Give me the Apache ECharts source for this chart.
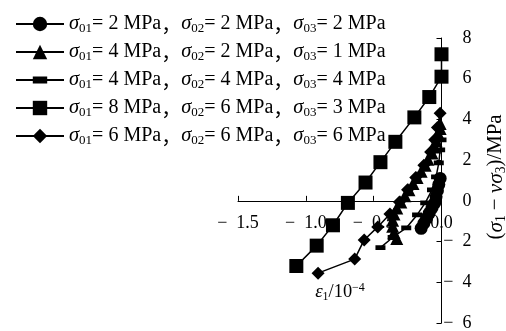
<!DOCTYPE html>
<html>
<head>
<meta charset="utf-8">
<script src="https://cdn.jsdelivr.net/npm/echarts@6/dist/echarts.min.js"></script>
<style>
  html, body { margin: 0; background: #fff; }
  #chart { width: 506px; height: 331px; }
</style>
</head>
<body>
<div id="chart"></div>
<script>
// 围压组合 (MPa)
const sigma01 = [2, 4, 4, 8, 6]
const sigma02 = [2, 2, 4, 6, 6]
const sigma03 = [2, 1, 4, 3, 6]

// ε1 (×10^-4)
const eps1 = [
  [-0.15, -0.13, -0.11, -0.09, -0.07, -0.05, -0.04, -0.03, -0.02, -0.01],
  [-0.33, -0.35, -0.36, -0.36, -0.35, -0.33, -0.3, -0.27, -0.24, -0.21, -0.18, -0.15, -0.12, -0.1, -0.07, -0.05, -0.04, -0.02, -0.01, -0.01],
  [-0.45, -0.36, -0.26, -0.18, -0.12, -0.07, -0.04, -0.02, -0.01, 0],
  [-1.07, -0.92, -0.8, -0.69, -0.56, -0.45, -0.34, -0.2, -0.09, 0, 0],
  [-0.91, -0.64, -0.57, -0.47, -0.38, -0.31, -0.25, -0.19, -0.13, -0.08, -0.05, -0.03, -0.01]
]
// σ1 − νσ3 (MPa)
const stress = [
  [-1.35, -1.1, -0.85, -0.6, -0.35, -0.1, 0.2, 0.5, 0.8, 1.1],
  [-1.85, -1.55, -1.25, -0.95, -0.65, -0.35, -0.05, 0.25, 0.55, 0.85, 1.15, 1.45, 1.75, 2.05, 2.35, 2.65, 2.95, 3.25, 3.55, 3.8],
  [-2.3, -1.8, -1.33, -0.69, -0.1, 0.54, 1.18, 1.87, 2.5, 3.0],
  [-3.2, -2.2, -1.2, -0.1, 0.9, 1.9, 2.9, 4.1, 5.1, 6.1, 7.2],
  [-3.55, -2.86, -1.92, -1.28, -0.65, -0.05, 0.55, 1.15, 1.75, 2.4, 3.0, 3.6, 4.3]
]

const dashSymbol = 'path://M0,0L0.01,0L0,0.01Z M9.99,10L10,10L10,9.99Z M0,2.6H10V7.4H0Z'
const symbols = ['circle', 'triangle', dashSymbol, 'rect', 'diamond']
const symbolSizes = [13, 13, 10, 14, 13]

const serif = '"Liberation Serif", "Times New Roman", serif'
const makeRich = (k) => ({
  i: { fontFamily: serif, fontStyle: 'italic', fontSize: 20.5 * k, color: '#000' },
  s: { fontFamily: serif, fontSize: 13 * k, color: '#000', padding: [10 * k, 0, 0, 0] },
  p: { fontFamily: serif, fontSize: 13 * k, color: '#000', padding: [0, 0, 10 * k, 0] },
  n: { fontFamily: serif, fontSize: 20 * k, color: '#000' },
  c: { fontFamily: '"Noto Sans CJK SC", sans-serif', fontSize: 20 * k, color: '#000' }
})
const rich = makeRich(1)

const names = sigma01.map((v, i) =>
  'σ01= ' + v + ' MPa，σ02= ' + sigma02[i] + ' MPa，σ03= ' + sigma03[i] + ' MPa')

const legendLabel = (i) =>
  '{i|σ}{s|01}{n|= ' + sigma01[i] + ' MPa}{c|，}' +
  '{i|σ}{s|02}{n|= ' + sigma02[i] + ' MPa}{c|，}' +
  '{i|σ}{s|03}{n|= ' + sigma03[i] + ' MPa}'

const fmtNum = (v, digits) => {
  const s = Math.abs(v).toFixed(digits)
  return v < 0 ? '\u2212\u2002' + s : s
}

const chart = echarts.init(document.getElementById('chart'))

// 网格高度 285px, y 范围 -6~8, 零线距底边 6/14
const gridH = 285
const zeroOffset = -gridH * 6 / 14

chart.setOption({
  backgroundColor: '#fff',
  animation: false,
  grid: { left: 238, right: 64.5, top: 38, bottom: 8, outerBoundsMode: 'none', containLabel: false },
  legend: {
    orient: 'vertical',
    left: 10,
    top: 9,
    itemWidth: 48,
    itemHeight: 18,
    itemGap: 6.5,
    data: names,
    formatter: (name) => legendLabel(names.indexOf(name)),
    textStyle: { color: '#000', rich }
  },
  xAxis: {
    type: 'value',
    min: -1.5,
    max: 0,
    interval: 0.5,
    offset: zeroOffset,
    axisLine: { onZero: false, lineStyle: { color: '#000', width: 1 } },
    axisTick: { inside: true, length: 5, lineStyle: { color: '#000' } },
    axisLabel: {
      color: '#000',
      fontFamily: serif,
      fontSize: 18,
      margin: 13,
      showMinLabel: true,
      showMaxLabel: true,
      formatter: (v) => fmtNum(v, 1)
    },
    splitLine: { show: false }
  },
  yAxis: {
    type: 'value',
    position: 'right',
    min: -6,
    max: 8,
    interval: 2,
    axisLine: { show: true, onZero: false, lineStyle: { color: '#000', width: 1 } },
    axisTick: { show: true, inside: true, length: 5, lineStyle: { color: '#000' } },
    axisLabel: {
      color: '#000',
      fontFamily: serif,
      fontSize: 18,
      align: 'right',
      margin: 30,
      formatter: (v) => fmtNum(v, 0)
    },
    splitLine: { show: false }
  },
  graphic: [
    {
      type: 'text',
      x: 340,
      y: 292,
      style: {
        text: '{i|ε}{s|1}{n|/10}{p|\u22124}',
        rich: makeRich(0.92),
        align: 'center',
        verticalAlign: 'middle'
      }
    },
    {
      type: 'text',
      x: 496,
      y: 177,
      rotation: Math.PI / 2,
      style: {
        text: '{n|(}{i|σ}{s|1}{n| \u2212 }{i|νσ}{s|3}{n|)/MPa}',
        rich: makeRich(1.04),
        align: 'center',
        verticalAlign: 'middle'
      }
    }
  ],
  series: names.map((name, i) => ({
    name,
    type: 'line',
    data: eps1[i].map((x, j) => [x, stress[i][j]]),
    symbol: symbols[i],
    symbolSize: symbolSizes[i],
    showSymbol: true,
    lineStyle: { color: '#000', width: 1.5 },
    itemStyle: { color: '#000' },
    z: 2 + i
  }))
})
</script>
</body>
</html>
